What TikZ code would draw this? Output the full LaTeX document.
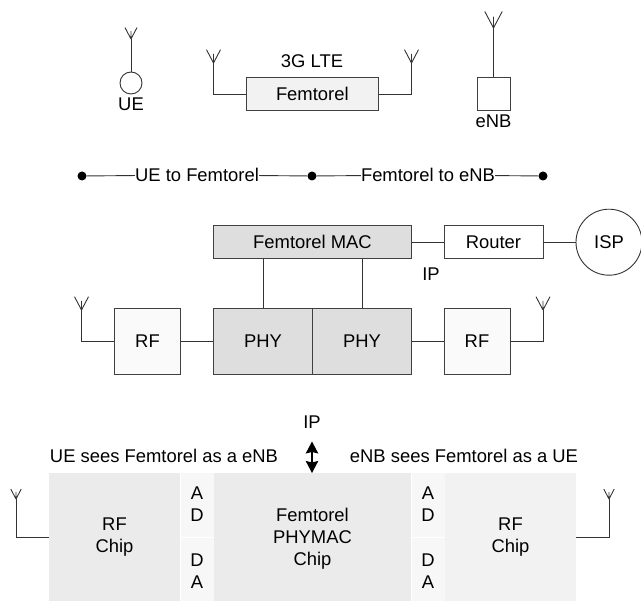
\documentclass[tikz,border=0pt]{standalone}
\usepackage{fontspec}
\setmainfont{Liberation Sans}
\usetikzlibrary{positioning,arrows.meta}

% forked aerial sitting on a named coordinate
\newcommand{\aerialfork}[2]{%
    \draw[wire] (#1) -- +(-#2,-#2*1.9) (#1) -- +(#2,-#2*1.9) (#1) -- +(0,-#2*1.3);
}

\begin{document}
\begin{tikzpicture}[
    x=1pt, y=-1pt,
    box/.style={draw=black!75, line width=0.9pt, inner sep=0pt, align=center, font=\fontsize{18.4}{22}\selectfont},
    plain/.style={inner sep=0pt, align=center, font=\fontsize{18.4}{22}\selectfont},
    chip/.style={inner sep=0pt},
    wire/.style={draw=black!80, line width=0.9pt},
    dot/.style={circle, fill=black, inner sep=0pt, minimum size=9pt},
    >={Stealth[length=12pt,width=12.5pt,inset=1.5pt]}
]
    \useasboundingbox (0,0) rectangle (641,601);

    % Top row: UE
    \node[draw=black!80, line width=0.9pt, circle, inner sep=0pt, minimum size=22pt] (ue) at (131,83) {};
    \node[plain] (uetxt) at (131,104) {UE};
    \coordinate (aue) at (131,39);
    \draw[wire] (aue) -- (ue);
    \aerialfork{aue}{6}

    % Top row: Femtorel
    \node[box, fill=black!5, minimum width=131.5pt, minimum height=32.5pt] (femto) at (312.3,94) {Femtorel};
    \node[plain] (lte) at (312,61) {3G LTE};
    \coordinate (afl) at (213.5,63);
    \coordinate (afr) at (411.5,63);
    \draw[wire] (femto.west) -| (afl);
    \draw[wire] (femto.east) -| (afr);
    \aerialfork{afl}{7}
    \aerialfork{afr}{7}

    % Top row: eNB
    \node[box, fill=white, minimum width=33pt, minimum height=32.5pt] (enb) at (493.5,94) {};
    \node[plain] (enbtxt) at (493.5,121) {eNB};
    \coordinate (aenb) at (493.5,28);
    \draw[wire] (enb) -- (aenb);
    \aerialfork{aenb}{8.7}

    % Link row
    \node[dot] (d1) at (82,176) {};
    \node[dot] (d2) at (312,176) {};
    \node[dot] (d3) at (543,176) {};
    \node[plain] (link1) at (197,175) {UE to Femtorel};
    \node[plain] (link2) at (428,175) {Femtorel to eNB};
    \draw[wire] (d1) -- (link1);
    \draw[wire] (link1) -- (d2);
    \draw[wire] (d2) -- (link2);
    \draw[wire] (link2) -- (d3);

    % Middle block
    \node[box, fill=black!13, minimum width=198pt, minimum height=32.5pt] (mac) at (312.5,242.2) {Femtorel MAC};
    \node[box, minimum width=99pt, minimum height=32.5pt] (router) at (493.5,242.2) {Router};
    \node[draw=black!80, line width=0.9pt, circle, inner sep=0pt, minimum size=66pt, font=\fontsize{18.4}{22}\selectfont] (isp) at (609,242.2) {ISP};
    \node[plain] (ip1) at (431,274) {IP};
    \node[box, fill=black!13, minimum width=99pt, minimum height=66pt] (phy1) at (263,341) {PHY};
    \node[box, fill=black!13, minimum width=99pt, minimum height=66pt] (phy2) at (362,341) {PHY};
    \node[box, fill=black!2, minimum width=66pt, minimum height=66pt] (rf1) at (147.5,341) {RF};
    \node[box, fill=black!2, minimum width=66pt, minimum height=66pt] (rf2) at (477,341) {RF};
    \coordinate (arl) at (81.5,310);
    \coordinate (arr) at (543,310);

    \draw[wire] (mac.east) -- (router.west);
    \draw[wire] (router.east) -- (isp.west);
    \draw[wire] (mac.south -| phy1) -- (phy1);
    \draw[wire] (mac.south -| phy2) -- (phy2);
    \draw[wire] (rf1) -- (phy1);
    \draw[wire] (phy2) -- (rf2);
    \draw[wire] (rf1.west) -| (arl);
    \draw[wire] (rf2.east) -| (arr);
    \aerialfork{arl}{7}
    \aerialfork{arr}{7}

    % Bottom block
    \node[plain] (ip2) at (312,422) {IP};
    \node[plain] (uesees) at (164,456) {UE sees Femtorel as a eNB};
    \node[plain] (enbsees) at (464,456) {eNB sees Femtorel as a UE};

    \node[chip, fill=black!8, minimum width=131pt, minimum height=128pt] (chip1) at (114.5,537) {};
    \node[chip, fill=black!3, minimum width=33pt, minimum height=64pt] (ad1) at (197,505) {};
    \node[chip, fill=black!3, minimum width=33pt, minimum height=63pt] (da1) at (197,570) {};
    \node[chip, fill=black!8, minimum width=197pt, minimum height=128pt] (phymac) at (312.5,537) {};
    \node[chip, fill=black!3, minimum width=33pt, minimum height=64pt] (ad2) at (428,505) {};
    \node[chip, fill=black!3, minimum width=33pt, minimum height=63pt] (da2) at (428,570) {};
    \node[chip, fill=black!5, minimum width=131pt, minimum height=128pt] (chip2) at (510.5,537) {};

    % Chip labels
    \node[plain] (chip1txt) at (114.5,537.5) {RF\\Chip};
    \node[plain] (ad1txt) at (197,504.5) {A\\D};
    \node[plain] (da1txt) at (197,571) {D\\A};
    \node[plain] (phymactxt) at (312.5,538.5) {Femtorel\\PHYMAC\\Chip};
    \node[plain] (ad2txt) at (428,504.5) {A\\D};
    \node[plain] (da2txt) at (428,571) {D\\A};
    \node[plain] (chip2txt) at (510.5,537.5) {RF\\Chip};

    \coordinate (ipa) at (312,441.5);
    \coordinate (ipb) at (312,473);
    \draw[<->, black, line width=1.1pt] (ipa) -- (ipb);

    \coordinate (acl) at (16,499);
    \coordinate (acr) at (609,499);
    \draw[wire] (chip1.west) -| (acl);
    \draw[wire] (chip2.east) -| (acr);
    \aerialfork{acl}{5.2}
    \aerialfork{acr}{5.2}
\end{tikzpicture}
\end{document}
